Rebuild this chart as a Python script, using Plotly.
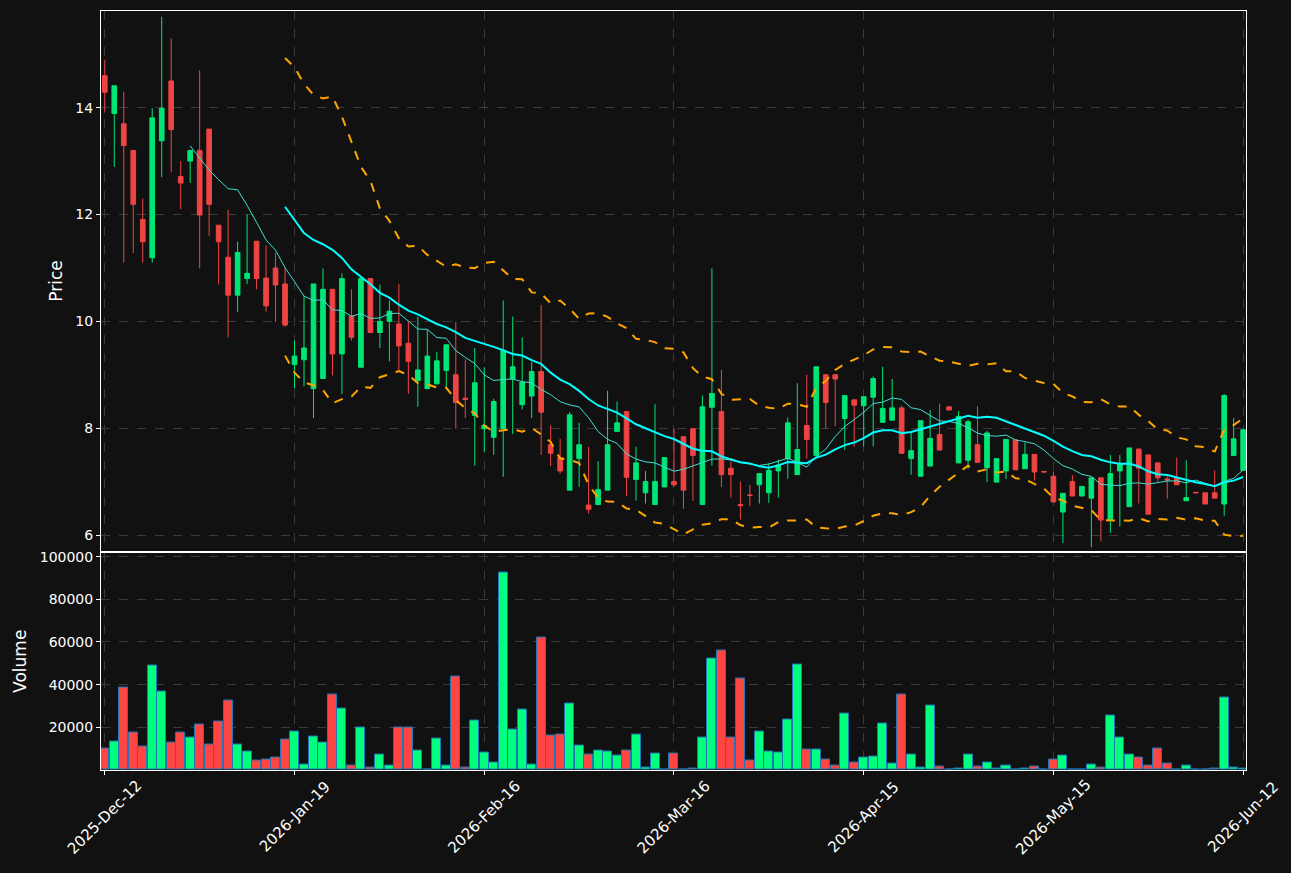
import plotly.graph_objects as go
import pandas as pd

# daily OHLC (index 0 = 2025-Dec-12)
opens = [14.60, 13.89, 13.70, 13.20, 11.91, 11.19, 13.38, 14.50, 12.71, 13.00,
         13.20, 13.60, 11.80, 11.20, 10.49, 10.80, 11.50, 10.81, 11.00, 10.70,
         9.19, 9.28, 8.74, 8.93, 10.60, 9.39, 10.10, 9.14, 10.80, 9.79,
         10.00, 9.95, 9.59, 8.89, 8.74, 8.83, 9.08, 9.00, 8.56, 8.24,
         7.99, 7.83, 7.99, 8.92, 8.44, 8.60, 9.06, 7.69, 7.45, 6.84,
         7.43, 6.56, 6.57, 6.84, 7.94, 8.31, 7.04, 6.79, 6.57, 6.90,
         7.00, 7.84, 7.99, 6.57, 8.39, 8.31, 7.25, 6.57, 6.75, 6.94,
         6.79, 7.20, 7.43, 7.13, 8.05, 7.49, 9.00, 9.00, 8.18, 8.53,
         8.42, 8.58, 8.11, 8.15, 8.38, 7.43, 7.10, 7.29, 7.88, 8.40,
         7.35, 7.40, 7.69, 7.26, 6.99, 7.20, 7.78, 7.24, 7.51, 7.19,
         7.10, 6.43, 7.00, 6.73, 6.69, 7.07, 6.29, 7.20, 6.53, 7.61,
         7.50, 7.35, 7.05, 7.06, 6.64, 6.80, 6.79, 6.79, 6.58, 7.49,
         7.21]
highs = [14.90, 14.41, 14.30, 13.20, 12.30, 13.99, 15.70, 15.30, 13.00, 13.20,
         14.70, 13.60, 11.80, 12.09, 11.49, 12.00, 11.50, 11.42, 11.28, 11.00,
         9.64, 10.47, 10.70, 10.99, 10.60, 10.90, 10.60, 10.80, 10.80, 10.69,
         10.39, 10.70, 9.99, 10.09, 9.84, 9.43, 9.56, 9.99, 9.29, 9.50,
         9.14, 8.55, 10.39, 10.09, 9.70, 9.24, 10.31, 8.05, 7.80, 8.30,
         8.10, 7.65, 7.38, 8.70, 8.50, 8.31, 7.65, 7.20, 8.45, 7.45,
         7.99, 7.84, 7.99, 8.61, 10.99, 9.09, 7.38, 7.00, 6.94, 7.15,
         7.34, 7.41, 8.20, 8.84, 9.00, 9.15, 9.00, 9.00, 8.61, 8.53,
         8.59, 8.97, 9.15, 8.92, 8.42, 7.91, 8.14, 8.34, 8.46, 8.40,
         8.32, 8.16, 8.41, 7.95, 7.43, 7.79, 7.78, 7.73, 7.51, 7.19,
         7.19, 6.78, 7.12, 6.91, 7.07, 7.07, 7.50, 7.50, 7.63, 7.61,
         7.50, 7.35, 7.10, 7.45, 7.40, 6.80, 6.79, 7.21, 8.64, 8.19,
         7.97]
lows = [13.91, 12.89, 11.10, 11.28, 11.10, 11.10, 12.70, 12.79, 12.10, 12.59,
        10.99, 11.60, 10.69, 9.70, 10.18, 10.70, 10.60, 10.18, 9.99, 9.90,
        8.75, 8.78, 8.19, 8.93, 8.99, 8.64, 9.64, 9.14, 9.79, 9.50,
        9.25, 9.09, 8.64, 8.40, 8.74, 8.83, 8.75, 7.99, 8.19, 7.30,
        7.55, 7.50, 7.09, 7.89, 8.35, 8.19, 7.50, 7.29, 7.15, 6.84,
        6.90, 6.40, 6.57, 6.84, 7.94, 6.73, 6.64, 6.59, 6.57, 6.90,
        6.90, 6.49, 6.64, 6.57, 7.30, 6.90, 6.70, 6.29, 6.54, 6.59,
        6.60, 6.70, 7.05, 7.13, 7.43, 7.49, 7.99, 8.04, 7.59, 7.65,
        7.66, 7.66, 8.11, 8.15, 7.53, 7.13, 7.10, 7.29, 7.59, 8.34,
        7.35, 7.24, 7.36, 6.99, 6.99, 7.05, 7.22, 7.24, 7.02, 7.18,
        6.62, 5.85, 6.73, 6.73, 5.77, 5.88, 6.04, 6.16, 6.53, 6.59,
        6.39, 7.00, 6.68, 6.94, 6.64, 6.79, 6.58, 6.69, 6.36, 7.49,
        7.21]
closes = [14.29, 14.41, 13.29, 12.19, 11.49, 13.81, 13.99, 13.59, 12.59, 13.20,
          11.99, 12.19, 11.49, 10.49, 11.29, 10.90, 10.80, 10.29, 10.68, 9.93,
          9.35, 9.50, 10.70, 10.60, 9.39, 10.80, 9.70, 10.80, 9.79, 10.00,
          10.19, 9.54, 9.25, 9.09, 9.35, 9.26, 9.56, 8.48, 8.54, 8.85,
          8.05, 8.50, 9.45, 9.15, 8.86, 9.06, 8.30, 7.53, 7.20, 8.25,
          7.69, 6.48, 6.85, 7.69, 8.10, 7.08, 7.35, 7.00, 7.00, 7.45,
          6.94, 6.84, 7.49, 8.40, 8.65, 7.13, 7.13, 6.55, 6.74, 7.15,
          7.21, 7.31, 8.10, 7.60, 7.79, 9.15, 8.48, 8.92, 8.61, 8.43,
          8.59, 8.93, 8.37, 8.38, 7.53, 7.58, 8.14, 7.81, 7.59, 8.34,
          8.22, 8.12, 7.36, 7.91, 7.43, 7.79, 7.22, 7.51, 7.18, 7.18,
          6.62, 6.78, 6.73, 6.91, 7.07, 6.28, 7.15, 7.33, 7.63, 7.25,
          6.39, 7.07, 7.03, 6.94, 6.70, 6.79, 6.58, 6.69, 8.61, 7.80,
          7.97]
volumes = [10000, 13300, 38700, 17400, 10900, 48800, 36800, 12800, 17400, 15100,
           21200, 11800, 22700, 32500, 11800, 8500, 4300, 4800, 5700, 14200,
           18000, 2400, 15600, 12800, 35400, 28800, 2000, 19900, 1000, 7100,
           2000, 19900, 19900, 9000, 200, 14700, 2000, 43800, 1000, 23100,
           8100, 3400, 92300, 18900, 28300, 2400, 62200, 16100, 16500, 31100,
           11400, 7100, 9000, 8500, 6700, 9000, 16500, 1000, 7600, 200,
           7600, 200, 500, 15100, 52300, 56100, 15100, 42900, 4300, 18000,
           8500, 8100, 23600, 49500, 9500, 9500, 4800, 2000, 26400, 3400,
           5700, 6200, 21700, 2900, 35400, 7100, 1000, 30200, 1500, 100,
           500, 7100, 1500, 3400, 500, 2000, 100, 500, 1500, 0,
           4800, 6700, 100, 100, 2400, 1000, 25500, 15100, 7100, 5700,
           2000, 10000, 2900, 100, 2000, 0, 0, 500, 34000, 1000,
           500]
tick_index = [0, 20, 40, 60, 80, 100, 120]
tick_labels = ["2025-Dec-12", "2026-Jan-19", "2026-Feb-16", "2026-Mar-16",
               "2026-Apr-15", "2026-May-15", "2026-Jun-12"]

GREEN = "#00e676"
RED = "#ef4444"
x = list(range(len(closes)))

close_s = pd.Series(closes)
ma10 = close_s.rolling(10).mean()
ma20 = close_s.rolling(20).mean()
std20 = close_s.rolling(20).std(ddof=0)
upper = ma20 + 2 * std20
lower = ma20 - 2 * std20

vol_colors = ["#00ff7f" if c >= o else "#ff4444" for o, c in zip(opens, closes)]

fig = go.Figure()
fig.add_trace(go.Candlestick(
    x=x, open=opens, high=highs, low=lows, close=closes,
    increasing=dict(line=dict(color=GREEN, width=1), fillcolor=GREEN),
    decreasing=dict(line=dict(color=RED, width=1), fillcolor=RED),
    whiskerwidth=0, showlegend=False, xaxis="x", yaxis="y"))
fig.add_trace(go.Scatter(x=x, y=ma10, mode="lines", line=dict(color="#40e0d0", width=1),
                         showlegend=False, xaxis="x", yaxis="y"))
fig.add_trace(go.Scatter(x=x, y=ma20, mode="lines", line=dict(color="#00ffff", width=2),
                         showlegend=False, xaxis="x", yaxis="y"))
for band in (upper, lower):
    fig.add_trace(go.Scatter(x=x, y=band, mode="lines",
                             line=dict(color="#ffa500", width=2, dash="dash"),
                             showlegend=False, xaxis="x", yaxis="y"))
fig.add_trace(go.Bar(x=x, y=volumes, marker=dict(color=vol_colors, line=dict(color="#1f77b4", width=1)),
                     width=0.95, showlegend=False, xaxis="x2", yaxis="y2"))

# date labels centred under their ticks, rotated 45 degrees
for xi, label in zip(tick_index, tick_labels):
    fig.add_annotation(x=xi, xref="x2", y=-0.062, yref="paper", text=label,
                       textangle=-45, showarrow=False, xanchor="center", yanchor="middle",
                       font=dict(size=15, color="white"))

grid = dict(showgrid=True, gridcolor="#3a3a3a", griddash="dash", gridwidth=1,
            showline=True, linecolor="white", linewidth=1, mirror=True,
            ticks="outside", tickcolor="white", ticklen=4, zeroline=False,
            tickfont=dict(color="white", size=14))

fig.update_layout(
    width=1291, height=873,
    paper_bgcolor="#111111", plot_bgcolor="#111111",
    font=dict(family="DejaVu Sans", color="white", size=14),
    margin=dict(l=101, r=45, t=7, b=103),
    xaxis=dict(domain=[0, 1], range=[-0.4, 120.3], anchor="y", showticklabels=False,
               tickvals=tick_index, rangeslider=dict(visible=False), **grid),
    xaxis2=dict(domain=[0, 1], range=[-0.4, 120.3], anchor="y2", matches="x",
                tickvals=tick_index, showticklabels=False, **grid),
    yaxis=dict(domain=[0.2885, 1], range=[5.70, 15.81], tickvals=[6, 8, 10, 12, 14],
               title=dict(text="Price", standoff=8), **grid),
    yaxis2=dict(domain=[0, 0.2865], range=[0, 101900],
                tickvals=[20000, 40000, 60000, 80000, 100000], tickformat="d",
                title=dict(text="Volume", standoff=8), **grid),
    bargap=0,
)

fig.write_html("out.html", config={"displayModeBar": False},
               post_script="document.body.style.margin='0';document.body.style.background='#111111';")
